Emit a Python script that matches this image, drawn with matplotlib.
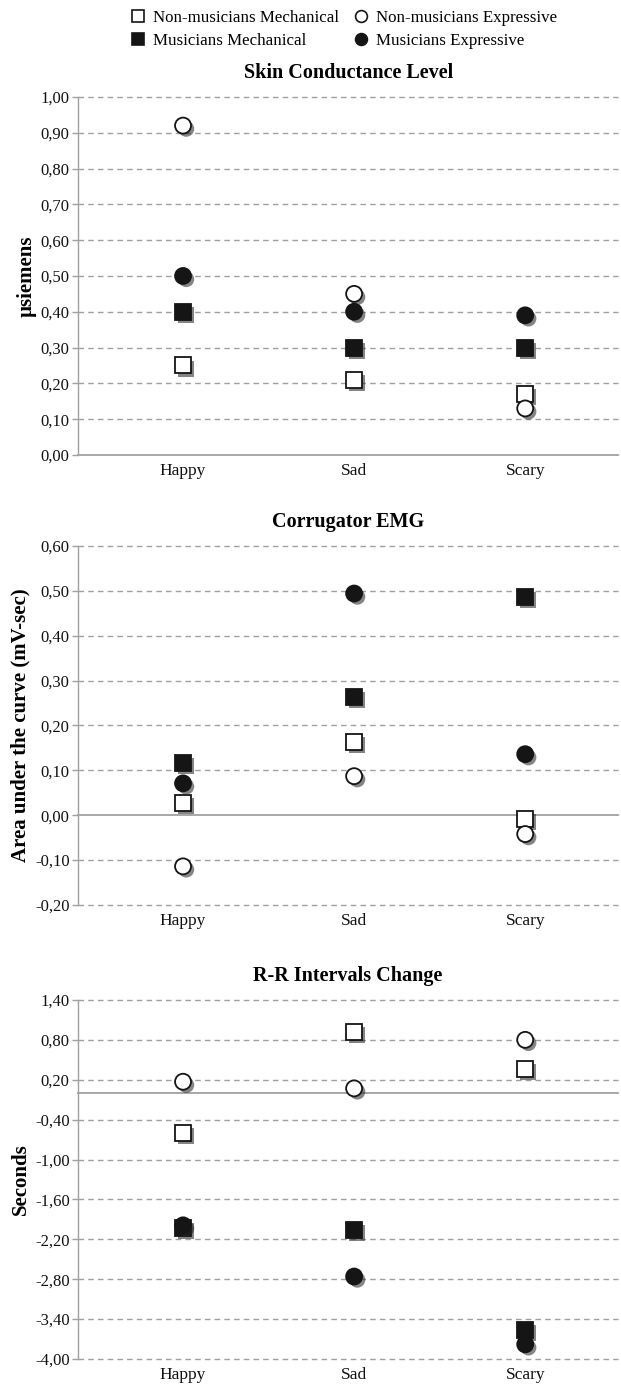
import matplotlib
matplotlib.use("Agg")
import matplotlib.pyplot as plt
import matplotlib.patheffects as pe
from matplotlib.lines import Line2D
from matplotlib.ticker import FixedLocator, FuncFormatter

plt.rcParams['font.family'] = ['Liberation Serif', 'DejaVu Serif']

categories = ["Happy", "Sad", "Scary"]
series_names = ["Non-musicians Mechanical", "Musicians Mechanical",
                "Non-musicians Expressive", "Musicians Expressive"]

# Skin Conductance Level (µsiemens)
scl_nm_mech = [0.25, 0.21, 0.17]
scl_m_mech = [0.40, 0.30, 0.30]
scl_nm_expr = [0.92, 0.45, 0.13]
scl_m_expr = [0.50, 0.40, 0.39]

# Corrugator EMG (mV-sec)
emg_nm_mech = [0.027, 0.163, -0.009]
emg_m_mech = [0.116, 0.263, 0.486]
emg_nm_expr = [-0.114, 0.087, -0.042]
emg_m_expr = [0.071, 0.494, 0.136]

# R-R Intervals Change (seconds)
rr_nm_mech = [-0.60, 0.92, 0.36]
rr_m_mech = [-2.03, -2.06, -3.56]
rr_nm_expr = [0.17, 0.07, 0.80]
rr_m_expr = [-1.99, -2.76, -3.78]

scl_ticks = [0.0, 0.1, 0.2, 0.3, 0.4, 0.5, 0.6, 0.7, 0.8, 0.9, 1.0]
emg_ticks = [-0.2, -0.1, 0.0, 0.1, 0.2, 0.3, 0.4, 0.5, 0.6]
rr_ticks = [-4.0, -3.4, -2.8, -2.2, -1.6, -1.0, -0.4, 0.2, 0.8, 1.4]

panels = [
    dict(title="Skin Conductance Level", ylabel="µsiemens",
         data=[scl_nm_mech, scl_m_mech, scl_nm_expr, scl_m_expr],
         ticks=scl_ticks, rect=[0.1256, 0.6715, 0.870, 0.2585]),
    dict(title="Corrugator EMG", ylabel="Area under the curve (mV-sec)",
         data=[emg_nm_mech, emg_m_mech, emg_nm_expr, emg_m_expr],
         ticks=emg_ticks, rect=[0.1256, 0.3466, 0.870, 0.2592]),
    dict(title="R-R Intervals Change", ylabel="Seconds",
         data=[rr_nm_mech, rr_m_mech, rr_nm_expr, rr_m_expr],
         ticks=rr_ticks, rect=[0.1256, 0.0188, 0.870, 0.2592]),
]

dark = "#151515"
styles = [
    dict(marker="s", markerfacecolor="white", markeredgecolor=dark, markersize=11.5),
    dict(marker="s", markerfacecolor=dark, markeredgecolor=dark, markersize=11.5),
    dict(marker="o", markerfacecolor="white", markeredgecolor=dark, markersize=11.5),
    dict(marker="o", markerfacecolor=dark, markeredgecolor=dark, markersize=11.5),
]

shadow = [pe.SimplePatchShadow(offset=(2.3, -2.3), shadow_rgbFace="#222222", alpha=0.55),
          pe.Normal()]

fig = plt.figure(figsize=(6.21, 13.85), dpi=100)
xpos = list(range(len(categories)))
grey = "#a0a0a0"

def fmt(v, _):
    s = f"{v:.2f}".replace(".", ",")
    if s.startswith("-0,00"):
        s = "0,00"
    return s

for p in panels:
    ax = fig.add_axes(p["rect"])
    ticks = p["ticks"]
    ax.set_ylim(ticks[0], ticks[-1])
    ax.set_xlim(-0.614, 2.544)
    ax.yaxis.set_major_locator(FixedLocator(ticks))
    ax.yaxis.set_major_formatter(FuncFormatter(fmt))
    for t in ticks:
        if abs(t) < 1e-9:
            continue
        ax.axhline(t, color=grey, lw=1.0, ls=(0, (4, 3)), zorder=1, clip_on=False)
    ax.axhline(0, color=grey, lw=1.3, zorder=1.5, clip_on=False)
    for spine in ["top", "right", "bottom"]:
        ax.spines[spine].set_visible(False)
    ax.spines["left"].set_color(grey)
    ax.spines["left"].set_linewidth(1.0)
    ax.tick_params(axis="y", colors=grey, length=4, width=1.0, labelcolor="#111111",
                   labelsize=12, pad=2)
    ax.tick_params(axis="x", length=0, labelsize=12.5, labelcolor="#111111", pad=6)
    ax.set_xticks(xpos)
    ax.set_xticklabels(categories)
    ax.set_title(p["title"], fontsize=14.5, fontweight="bold", pad=14)
    ax.set_ylabel(p["ylabel"], fontsize=15, fontweight="bold", labelpad=3)
    for vals, st in zip(p["data"], styles):
        ln, = ax.plot(xpos, vals, ls="none", markeredgewidth=1.3, zorder=3,
                      clip_on=False, **st)
        ln.set_path_effects(shadow)

handles = [Line2D([], [], ls="none", markeredgewidth=1.2,
                  **{**st, "markersize": 8.5}) for st in styles]
fig.legend(handles, series_names, loc="upper center", bbox_to_anchor=(0.553, 1.0),
           ncol=2, frameon=False, fontsize=12.2, handletextpad=0.4,
           columnspacing=0.8, handlelength=1.0, labelspacing=0.4,
           borderaxespad=0.2)

fig.savefig("out.png", dpi=100)
